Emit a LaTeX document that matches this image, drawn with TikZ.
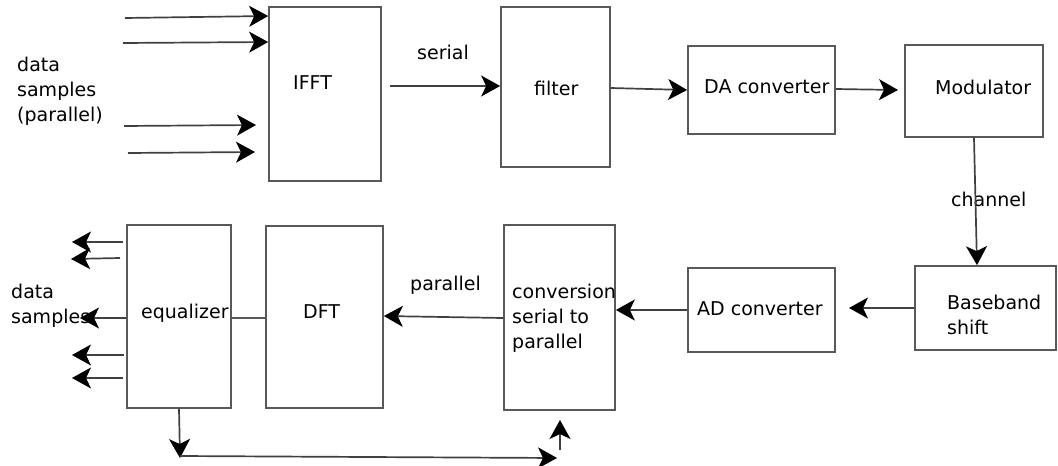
\documentclass[tikz,border=0pt]{standalone}
\usepackage{fontspec}
\setmainfont{DejaVu Sans}
\usetikzlibrary{arrows.meta,calc}
\begin{document}
\begin{tikzpicture}[x=1pt,y=-1pt,
  box/.style={draw=black!65,line width=1.7pt,fill=white,inner sep=0pt},
  txt/.style={anchor=west,inner sep=0pt,text=black,font=\fontsize{19}{25}\selectfont,align=left},
  arr/.style={draw=black!75,line width=1.7pt,-{Stealth[length=19pt,width=21pt,inset=5pt,color=black,fill=black,line width=1pt]}},
  ln/.style={draw=black!65,line width=1.7pt}]
\useasboundingbox (0,0) rectangle (1058,466);
% boxes
\node[box,minimum width=112pt,minimum height=174pt] (ifft) at (325,94) {};
\node[box,minimum width=109pt,minimum height=160pt] (filter) at (555.5,87) {};
\node[box,minimum width=147pt,minimum height=88pt] (da) at (761.5,90) {};
\node[box,minimum width=138pt,minimum height=92pt] (mod) at (974,91) {};
\node[box,minimum width=141pt,minimum height=84pt] (bb) at (985.5,308) {};
\node[box,minimum width=147pt,minimum height=84pt] (ad) at (761.5,310) {};
\node[box,minimum width=111pt,minimum height=185pt] (conv) at (559.5,317.5) {};
\node[box,minimum width=117pt,minimum height=182pt] (dft) at (324.5,317) {};
\node[box,minimum width=104pt,minimum height=183pt] (eq) at (179,316.5) {};
% texts
\node[txt] (tifft) at (293,83) {IFFT};
\node[txt] (tser) at (417,52) {serial};
\node[txt] (tfil) at (534,88) {filter};
\node[txt] (tda) at (704,87) {DA converter};
\node[txt] (tmod) at (935,87) {Modulator};
\node[txt] (tch) at (951,199) {channel};
\node[txt] (tbb) at (947,314.5) {Baseband\\shift};
\node[txt] (tad) at (697,309) {AD converter};
\node[txt] (tconv) at (512,318) {conversion\\serial to\\parallel};
\node[txt] (tpar) at (410,285) {parallel};
\node[txt] (tdft) at (303,312) {DFT};
\node[txt] (teq) at (141,313) {equalizer};
\node[txt] (tin) at (17,91) {data\\samples\\(parallel)};
\node[txt] (tout) at (11,306) {data\\samples};
% input arrows
\coordinate (i1) at (125,18); \coordinate (i2) at (123,43);
\coordinate (i3) at (124,126); \coordinate (i4) at (128,153);
\draw[arr] (i1) -- (ifft.west |- 0,16);
\draw[arr] (i2) -- (ifft.west |- 0,42);
\draw[arr] (i3) -- (256,125);
\draw[arr] (i4) -- (255,152);
% top chain
\coordinate (s1) at (390,86);
\draw[arr] (s1) -- (filter.west |- s1);
\draw[arr] (filter.east |- 0,88) -- (da.west);
\coordinate (m1) at (898,90);
\draw[arr] (da.east |- 0,89) -- (m1);
\draw[arr] (mod.south) -- (bb.north -| 977,0);
% bottom chain
\coordinate (a1) at (849,308);
\draw[arr] (bb.west |- a1) -- (a1);
\draw[arr] (ad.west) -- (conv.east |- ad.west);
\draw[arr] (conv.west |- 0,318) -- (dft.east |- 0,316);
\draw[ln] (eq.east |- 0,318) -- (dft.west |- 0,318);
% output arrows
\draw[arr] (123,242) -- (72,242);
\draw[arr] (120,258) -- (71,259);
\draw[arr] (eq.west |- 0,318) -- (80,318);
\draw[arr] (124,355) -- (72,355);
\draw[arr] (123,378) -- (72,378);
% feedback
\coordinate (f1) at (180,458);
\coordinate (f2) at (557,458);
\coordinate (f3) at (560,450);
\coordinate (f4) at (560,420);
\draw[arr] (eq.south) -- (f1);
\draw[arr] (180,456) -- (f2);
\draw[arr] (f3) -- (f4);
\end{tikzpicture}
\end{document}
